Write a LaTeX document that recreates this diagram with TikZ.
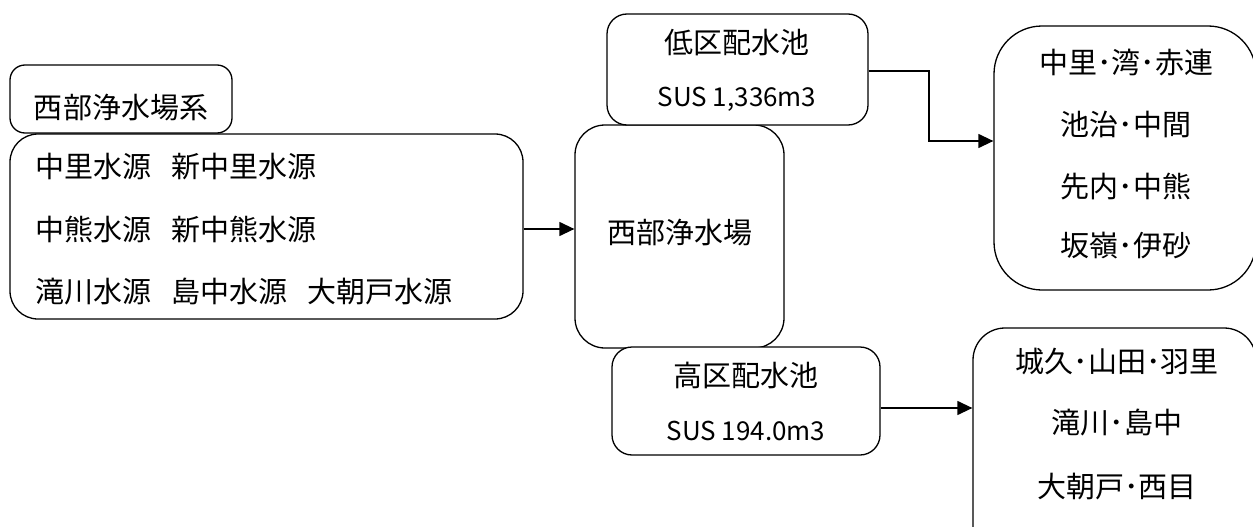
\documentclass[tikz,border=0pt]{standalone}
\usepackage{fontspec}
\setmainfont{Noto Sans CJK JP}
\usetikzlibrary{arrows.meta}
\begin{document}
\begin{tikzpicture}[x=1pt,y=-1pt,
  box/.style={draw,line width=1.3pt,fill=white,inner sep=0pt},
  jp/.style={font=\fontsize{29}{29}\selectfont,inner sep=0pt},
  sus/.style={font=\fontsize{26}{26}\selectfont,inner sep=0pt},
  arr/.style={line width=1.3pt,-{Triangle[length=15pt,width=14pt]}}]
\useasboundingbox (0,0) rectangle (1253,527);
% boxes
\node[box,rounded corners=15pt,minimum width=222pt,minimum height=68pt] (sys) at (121,99) {};
\node[box,rounded corners=28pt,minimum width=513pt,minimum height=185pt] (src) at (266.5,226.5) {};
\node[box,rounded corners=30pt,minimum width=209pt,minimum height=223pt] (plant) at (679.5,236.5) {};
\node[box,rounded corners=20pt,minimum width=261pt,minimum height=111pt] (low) at (737.5,69.5) {};
\node[box,rounded corners=20pt,minimum width=268pt,minimum height=108pt] (high) at (746,401) {};
\node[box,rounded corners=48pt,minimum width=262pt,minimum height=264pt] (rtop) at (1125,158) {};
\node[box,rounded corners=32pt,minimum width=283pt,minimum height=232pt] (rbot) at (1114.5,444) {};
% texts
\node[jp] (tsys) at (121,108) {西部浄水場系};
\node[jp,anchor=west] (s1) at (35,167) {中里水源\hspace{0.7em}新中里水源};
\node[jp,anchor=west] (s2) at (35,230) {中熊水源\hspace{0.7em}新中熊水源};
\node[jp,anchor=west] (s3) at (35,292) {滝川水源\hspace{0.7em}島中水源\hspace{0.7em}大朝戸水源};
\node[jp] (tplant) at (680,233) {西部浄水場};
\node[jp] (tlow) at (737,43) {低区配水池};
\node[sus] (slow) at (737,99) {SUS 1,336m3};
\node[jp] (thigh) at (746,375) {高区配水池};
\node[sus] (shigh) at (746,431) {SUS 194.0m3};
\node[jp] (r1) at (1126,63) {中里･湾･赤連};
\node[jp] (r2) at (1126,124) {池治･中間};
\node[jp] (r3) at (1126,187) {先内･中熊};
\node[jp] (r4) at (1126,246) {坂嶺･伊砂};
\node[jp] (b1) at (1117,362) {城久･山田･羽里};
\node[jp] (b2) at (1117,423) {滝川･島中};
\node[jp] (b3) at (1117,487) {大朝戸･西目};
% connectors
\coordinate (bend) at (929,141);
\coordinate (hy) at (0,408);
\coordinate (sy) at (0,229);
\draw[arr] (src.east |- sy) -- (plant.west |- sy);
\draw[arr] (low.east |- 0,71) -| (bend) -- (bend -| rtop.west);
\draw[arr] (high.east |- hy) -- (rbot.west |- hy);
\end{tikzpicture}
\end{document}
